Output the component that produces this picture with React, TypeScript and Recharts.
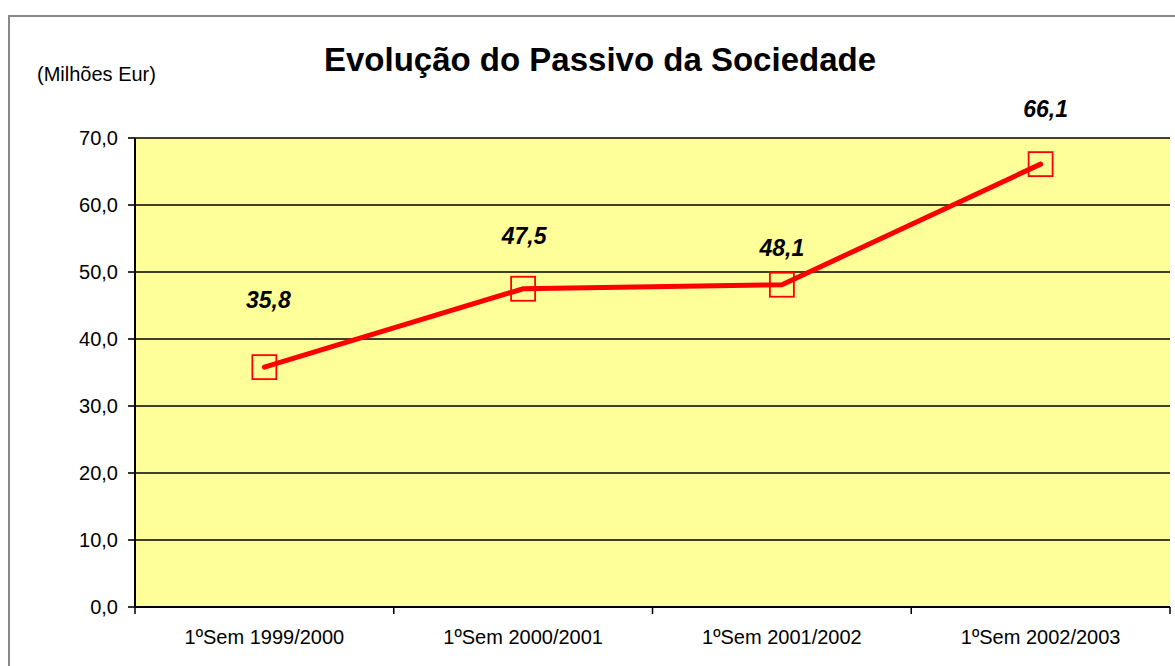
import {
  CartesianGrid,
  LabelList,
  Line,
  LineChart,
  XAxis,
  YAxis,
} from "recharts";

const periods = [
  "1ºSem 1999/2000",
  "1ºSem 2000/2001",
  "1ºSem 2001/2002",
  "1ºSem 2002/2003",
];
const passivo = [35.8, 47.5, 48.1, 66.1];
const yTicks = [0, 10, 20, 30, 40, 50, 60, 70];

// label nudges as placed in the original sheet (px above / right of the point)
const labelDy = [59, 45, 29, 47];
const labelDx = [4, 1, 0, 5];

const data = periods.map((p, i) => ({ period: p, value: passivo[i] }));

const W = 1175;
const H = 666;
const margin = { top: 138, right: 5, bottom: 19, left: 8 };
const yAxisWidth = 127;
const plotWidth = W - margin.left - margin.right - yAxisWidth;
const band = plotWidth / periods.length;
const FONT = "'Liberation Sans', Arial, sans-serif";

const fmt = (v: number) => v.toFixed(1).replace(".", ",");

function XTick(props: any) {
  const { x, y, payload, index } = props;
  const axisY = y - 23;
  return (
    <g>
      <line x1={x - band / 2} x2={x - band / 2} y1={axisY} y2={axisY + 7} stroke="#000" strokeWidth={1.5} />
      {index === periods.length - 1 && (
        <line x1={x + band / 2} x2={x + band / 2} y1={axisY} y2={axisY + 7} stroke="#000" strokeWidth={1.5} />
      )}
      <text x={x} y={y} dy="0.71em" textAnchor="middle" fontSize={20} fontFamily={FONT} fill="#000">
        {payload.value}
      </text>
    </g>
  );
}

function Marker(props: any) {
  const { cx, cy } = props;
  if (cx == null || cy == null) return null;
  return <rect x={cx - 12} y={cy - 12} width={24} height={24} fill="none" stroke="#ff0000" strokeWidth={1.8} />;
}

function ValueLabel(props: any) {
  const { x, y, value, index } = props;
  return (
    <text
      x={x + labelDx[index]}
      y={y - labelDy[index]}
      textAnchor="middle"
      fontSize={23}
      fontWeight="bold"
      fontStyle="italic"
      fontFamily={FONT}
      fill="#000"
    >
      {fmt(value)}
    </text>
  );
}

export default function App() {
  return (
    <div style={{ position: "absolute", left: 0, top: 0, width: W, height: H, overflow: "hidden", background: "#fff" }}>
      <LineChart width={W} height={H} data={data} margin={margin}>
        <CartesianGrid
          yAxisId="left"
          fill="#ffff99"
          fillOpacity={1}
          stroke="#000"
          strokeWidth={1.6}
          vertical={false}
          strokeOpacity={1}
        />
        <XAxis
          dataKey="period"
          height={40}
          padding={{ left: band / 2, right: band / 2 }}
          tickLine={false}
          tickSize={0}
          tickMargin={23}
          tick={<XTick />}
          axisLine={{ stroke: "#000", strokeWidth: 2 }}
          interval={0}
        />
        <YAxis
          yAxisId="left"
          width={yAxisWidth}
          domain={[0, 70]}
          ticks={yTicks}
          tickFormatter={fmt}
          tickSize={7}
          tickMargin={10}
          tick={{ fontSize: 20, fill: "#000", fontFamily: FONT }}
          tickLine={{ stroke: "#000", strokeWidth: 1.6 }}
          axisLine={{ stroke: "#000", strokeWidth: 2 }}
        />
        <YAxis
          yAxisId="right"
          orientation="right"
          width={0}
          tick={false}
          tickLine={false}
          axisLine={{ stroke: "#000", strokeWidth: 2 }}
        />
        <Line
          yAxisId="left"
          type="linear"
          dataKey="value"
          stroke="#ff0000"
          strokeWidth={5}
          strokeLinecap="round"
          dot={<Marker />}
          activeDot={false}
          isAnimationActive={false}
        >
          <LabelList dataKey="value" content={<ValueLabel />} />
        </Line>
      </LineChart>
      <svg width={W} height={H} style={{ position: "absolute", left: 0, top: 0, pointerEvents: "none" }}>
        <rect x={9} y={16} width={W + 20} height={H + 20} fill="none" stroke="#888888" strokeWidth={2} />
        <text x={600} y={71} textAnchor="middle" fontSize={33} fontWeight="bold" fontFamily={FONT} fill="#000">
          Evolução do Passivo da Sociedade
        </text>
        <text x={37} y={81} fontSize={20} fontFamily={FONT} fill="#000">
          (Milhões Eur)
        </text>
      </svg>
    </div>
  );
}
